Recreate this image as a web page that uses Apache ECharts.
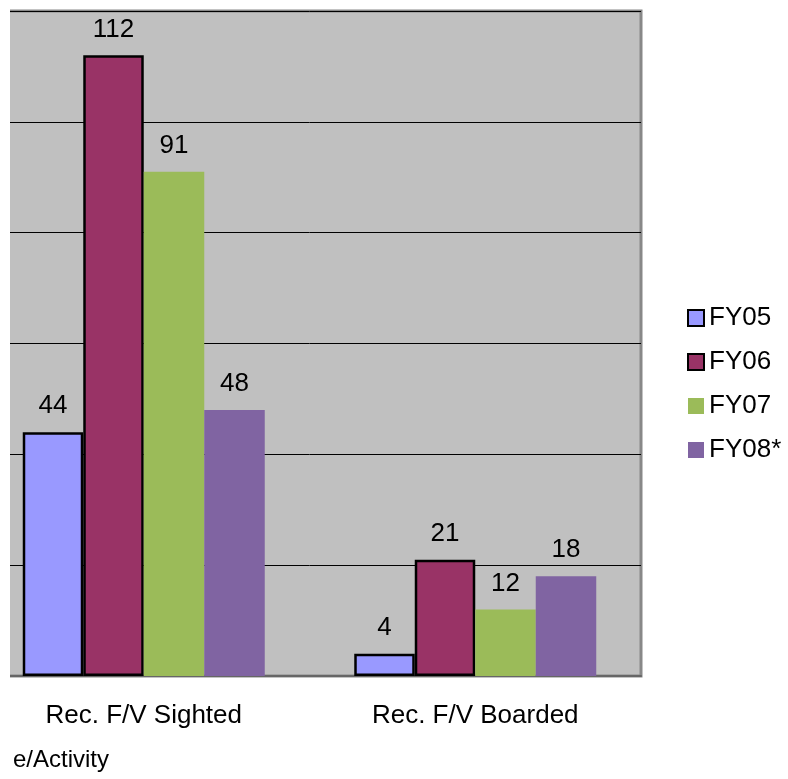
<!DOCTYPE html>
<html><head><meta charset="utf-8">
<script src="https://cdn.jsdelivr.net/npm/echarts@6/dist/echarts.min.js"></script>
<style>html,body{margin:0;padding:0;background:#fff;overflow:hidden}#wrap{position:relative;width:788px;height:779px;overflow:hidden}#c{position:absolute;left:-32px;top:0;width:820px;height:779px}</style>
</head><body><div id="wrap"><div id="c"></div></div>
<script>
const categories = ['Rec. F/V Sighted', 'Rec. F/V Boarded'];
const seriesNames = ['FY05', 'FY06', 'FY07', 'FY08*'];
const fy05 = [44, 4];
const fy06 = [112, 21];
const fy07 = [91, 12];
const fy08 = [48, 18];
const yTicks = [0, 20, 40, 60, 80, 100, 120];
const axisTitle = 'e/Activity';

const colors = ['#9999FF', '#993366', '#9BBB59', '#8064A2'];
const bordered = [true, true, false, false];
const values = [fy05, fy06, fy07, fy08];
const font = 'Liberation Sans, Arial, sans-serif';
const SHIFT = 32;

const chart = echarts.init(document.getElementById('c'));
chart.setOption({
  animation: false,
  grid: { left: 10, right: 147, top: 11, bottom: 103, show: true, backgroundColor: '#C0C0C0', borderColor: '#888', borderWidth: 3 },
  legend: {
    orient: 'vertical', left: 682 + SHIFT, top: 300, itemWidth: 16, itemHeight: 16, itemGap: 18, itemTextGap: 5,
    textStyle: { fontFamily: font, fontSize: 26, color: '#000' },
    data: seriesNames.map((n, i) => ({ name: n, icon: 'rect',
      itemStyle: { color: colors[i], borderColor: bordered[i] ? '#000' : colors[i], borderWidth: bordered[i] ? 2 : 0 } }))
  },
  xAxis: {
    type: 'category', data: categories,
    axisLine: { lineStyle: { color: '#666', width: 2 } },
    axisTick: { show: false },
    axisLabel: { fontFamily: font, fontSize: 26, color: '#000', margin: 27 }
  },
  yAxis: {
    type: 'value', min: yTicks[0], max: yTicks[yTicks.length - 1], interval: yTicks[1] - yTicks[0],
    axisLabel: { show: false }, axisLine: { show: false }, axisTick: { show: false },
    splitLine: { lineStyle: { color: '#000', width: 1 } }
  },
  graphic: [
    { type: 'rect', left: SHIFT, top: 0, shape: { width: 10, height: 690 }, style: { fill: '#fff' }, z: 100 },
    { type: 'text', left: 13 + SHIFT, top: 748, style: { text: axisTitle, font: '24px ' + font, fill: '#000' }, z: 100 }
  ],
  series: seriesNames.map((n, i) => ({
    name: n, type: 'bar', data: values[i], barGap: '0%', barCategoryGap: '27%',
    itemStyle: { color: colors[i], borderColor: '#000', borderWidth: bordered[i] ? 2.5 : 0 },
    label: { show: true, position: 'top', distance: 13, fontFamily: font, fontSize: 26, color: '#000' }
  }))
});
</script></body></html>
